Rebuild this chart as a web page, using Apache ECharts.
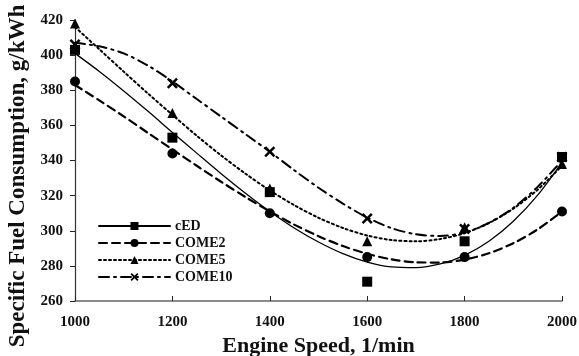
<!DOCTYPE html>
<html>
<head>
<meta charset="utf-8">
<script src="https://cdn.jsdelivr.net/npm/echarts@6/dist/echarts.min.js"></script>
<style>
  html, body { margin: 0; padding: 0; background: #fff; }
  #main { width: 579px; height: 356px; }
</style>
</head>
<body>
<div id="main"></div>
<script>
// measured points (every 200 rpm)
var speeds = [1000, 1200, 1400, 1600, 1800, 2000];
var cED    = [403, 353, 322, 271, 294, 342];
var COME2  = [385, 344, 310, 285, 285, 311];
var COME5  = [418, 367, 324, 294, 302, 338];
var COME10 = [406, 384, 345, 307, 301, 342];

// trend lines (every 50 rpm)
var trendSpeeds = [1000, 1050, 1100, 1150, 1200, 1250, 1300, 1350, 1400, 1450, 1500,
                   1550, 1600, 1650, 1700, 1750, 1800, 1850, 1900, 1950, 2000];
var cEDTrend    = [401, 390.7, 379.6, 368, 356, 344.2, 332.5, 321.4, 311, 301.6, 293.6,
                   287, 282.2, 279.4, 279, 281.1, 286, 294, 305.4, 320.3, 339];
var COME2Trend  = [383, 374.2, 365.1, 355.7, 346.3, 337, 327.9, 319.2, 311, 303.5, 296.9,
                   291.3, 286.9, 283.7, 282, 281.9, 283.6, 287.2, 292.9, 300.8, 311];
var COME5Trend  = [416, 403.3, 390.6, 378.1, 366, 354.1, 342.9, 332.5, 323, 314.6, 307.4,
                   301.6, 297.3, 294.7, 294, 295.3, 298.6, 304.4, 312.6, 323.4, 337];
var COME10Trend = [407, 405, 401, 394, 385, 375, 365, 355, 345, 334.5, 324.5,
                   315.5, 307.5, 301.5, 298, 297, 299, 304.5, 313, 325, 340];

var yTicks = [260, 420, 20];   // min, max, step
var xTicks = [1000, 2000, 200];

var names = ['cED', 'COME2', 'COME5', 'COME10'];
var marks = [cED, COME2, COME5, COME10];
var trends = [cEDTrend, COME2Trend, COME5Trend, COME10Trend];

var xMark = 'path://M0,1.6L1.6,0L5,3.4L8.4,0L10,1.6L6.6,5L10,8.4L8.4,10L5,6.6L1.6,10L0,8.4L3.4,5Z';
var symbols = ['rect', 'circle', 'triangle', xMark];
var symSizes = [10, 10, 10, 11];
var dashes = ['solid', [8, 5], [2, 3], [10, 5, 2, 5]];
var widths = [1.3, 2.2, 2, 2];

function pairs(xs, ys) {
  return xs.map(function (x, i) { return [x, ys[i]]; });
}

var series = [];
names.forEach(function (n, i) {
  series.push({
    name: n,
    type: 'line',
    smooth: 0.3,
    symbol: symbols[i],
    symbolSize: symSizes[i],
    showSymbol: false,
    data: pairs(trendSpeeds, trends[i]),
    itemStyle: { color: '#000' },
    lineStyle: { color: '#000', width: widths[i], type: dashes[i], cap: 'round' },
    z: 2
  });
});
names.forEach(function (n, i) {
  series.push({
    name: n,
    type: 'scatter',
    symbol: symbols[i],
    symbolSize: symSizes[i],
    data: pairs(speeds, marks[i]),
    itemStyle: { color: '#000', opacity: 1 },
    z: 3
  });
});

var serif = '"Liberation Serif", "DejaVu Serif", serif';

var option = {
  backgroundColor: '#fff',
  animation: false,
  grid: { left: 75, right: 17, top: 20, bottom: 55, outerBoundsMode: 'none' },
  graphic: [{
    type: 'text',
    rotation: Math.PI / 2,
    x: 18, y: 176,
    style: {
      text: 'Specific Fuel Consumption, g/kWh',
      fontFamily: serif, fontWeight: 'bold', fontSize: 23, fill: '#111',
      align: 'center', verticalAlign: 'middle'
    }
  }],
  legend: {
    data: names,
    orient: 'vertical',
    left: 93,
    top: 214,
    itemWidth: 71,
    itemHeight: 10,
    itemGap: 3,
    textStyle: { fontFamily: serif, fontWeight: 'bold', fontSize: 14, lineHeight: 14, color: '#111' }
  },
  xAxis: {
    type: 'value',
    min: xTicks[0], max: xTicks[1], interval: xTicks[2],
    name: 'Engine Speed, 1/min',
    nameLocation: 'middle',
    nameGap: 30,
    nameTextStyle: { fontFamily: serif, fontWeight: 'bold', fontSize: 22, color: '#111' },
    axisLine: { lineStyle: { color: '#666', width: 1.5 } },
    axisTick: { show: true, inside: true, length: 5, lineStyle: { color: '#222' } },
    axisLabel: { fontFamily: serif, fontWeight: 'bold', fontSize: 15, color: '#111', margin: 14,
                 formatter: function (v) { return String(v); } },
    splitLine: { show: false }
  },
  yAxis: {
    type: 'value',
    min: yTicks[0], max: yTicks[1], interval: yTicks[2],
    axisLine: { show: true, lineStyle: { color: '#333', width: 1.2 } },
    axisTick: { show: true, inside: false, length: 5, lineStyle: { color: '#222' } },
    axisLabel: { fontFamily: serif, fontWeight: 'bold', fontSize: 15, color: '#111', margin: 12 },
    splitLine: { show: false }
  },
  series: series
};

var myChart = echarts.init(document.getElementById('main'));
myChart.setOption(option);
</script>
</body>
</html>
